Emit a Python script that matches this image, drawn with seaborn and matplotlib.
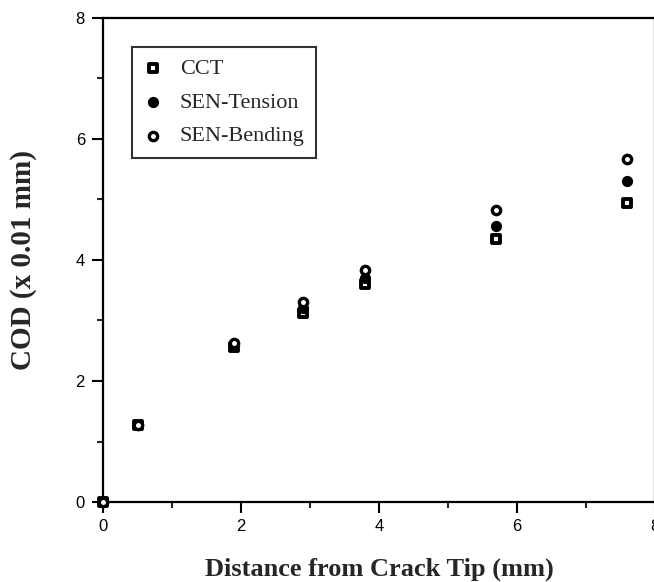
import matplotlib
matplotlib.use("Agg")
import matplotlib.pyplot as plt
import seaborn as sns
import pandas as pd
from matplotlib.ticker import MultipleLocator

# Data
distance = [0, 0.5, 1.9, 2.9, 3.8, 5.7, 7.6]
cct = [0, 1.28, 2.56, 3.13, 3.60, 4.34, 4.95]
sen_tension = [0, 1.28, 2.58, 3.20, 3.70, 4.56, 5.30]
sen_bending = [0, 1.28, 2.62, 3.30, 3.84, 4.82, 5.67]
series_names = ["CCT", "SEN-Tension", "SEN-Bending"]
x_ticks = [0, 2, 4, 6, 8]
y_ticks = [0, 2, 4, 6, 8]

df = pd.DataFrame({
    "Distance": distance * 3,
    "COD": cct + sen_tension + sen_bending,
    "Specimen": [series_names[0]] * len(distance)
              + [series_names[1]] * len(distance)
              + [series_names[2]] * len(distance),
})

sns.set_theme(style="ticks")
plt.rcParams["font.family"] = ["Liberation Sans", "DejaVu Sans"]

fig = plt.figure(figsize=(6.54, 5.82), dpi=100)
ax = fig.add_axes([103 / 654, 80 / 582, 552 / 654, 484 / 582])

styles = {
    "CCT": dict(marker="s", facecolor="white", edgecolor="black", linewidth=2.8, s=34),
    "SEN-Tension": dict(marker="o", facecolor="black", edgecolor="black", linewidth=1.0, s=50),
    "SEN-Bending": dict(marker="o", facecolor="white", edgecolor="black", linewidth=2.4, s=36),
}
for name in series_names:
    sub = df[df["Specimen"] == name]
    st = styles[name]
    sns.scatterplot(data=sub, x="Distance", y="COD", ax=ax, label=name,
                    marker=st["marker"], color=st["facecolor"],
                    edgecolor=st["edgecolor"], linewidth=st["linewidth"],
                    s=st["s"], clip_on=False, zorder=3)

ax.set_xlim(0, 8)
ax.set_ylim(0, 8)
ax.set_xticks(x_ticks)
ax.set_yticks(y_ticks)
ax.xaxis.set_minor_locator(MultipleLocator(1))
ax.yaxis.set_minor_locator(MultipleLocator(1))
ax.tick_params(axis="both", which="major", direction="out", length=8, width=1.5,
               labelsize=12, colors="black", pad=5)
ax.tick_params(axis="x", which="major", pad=4)
ax.tick_params(axis="both", which="minor", direction="out", length=4, width=1.5)
for sp in ax.spines.values():
    sp.set_linewidth(1.6)
    sp.set_color("black")
    sp.set_visible(True)

ax.set_xlabel("Distance from Crack Tip (mm)", family="Liberation Serif",
              fontweight="bold", fontsize=19, labelpad=17)
ax.set_ylabel("COD (x 0.01 mm)", family="Liberation Serif",
              fontweight="bold", fontsize=21, labelpad=28)

leg = ax.legend(loc="upper left", bbox_to_anchor=((132 - 103) / 552, (502 - 47) / 484),
                borderaxespad=0, frameon=True, fancybox=False, shadow=False,
                prop={"family": "Liberation Serif", "size": 16},
                handletextpad=0.75, labelspacing=0.6, borderpad=0.5,
                handlelength=0.9)
leg.get_frame().set_edgecolor("black")
leg.get_frame().set_linewidth(1.5)

fig.savefig("out.png", dpi=100)
